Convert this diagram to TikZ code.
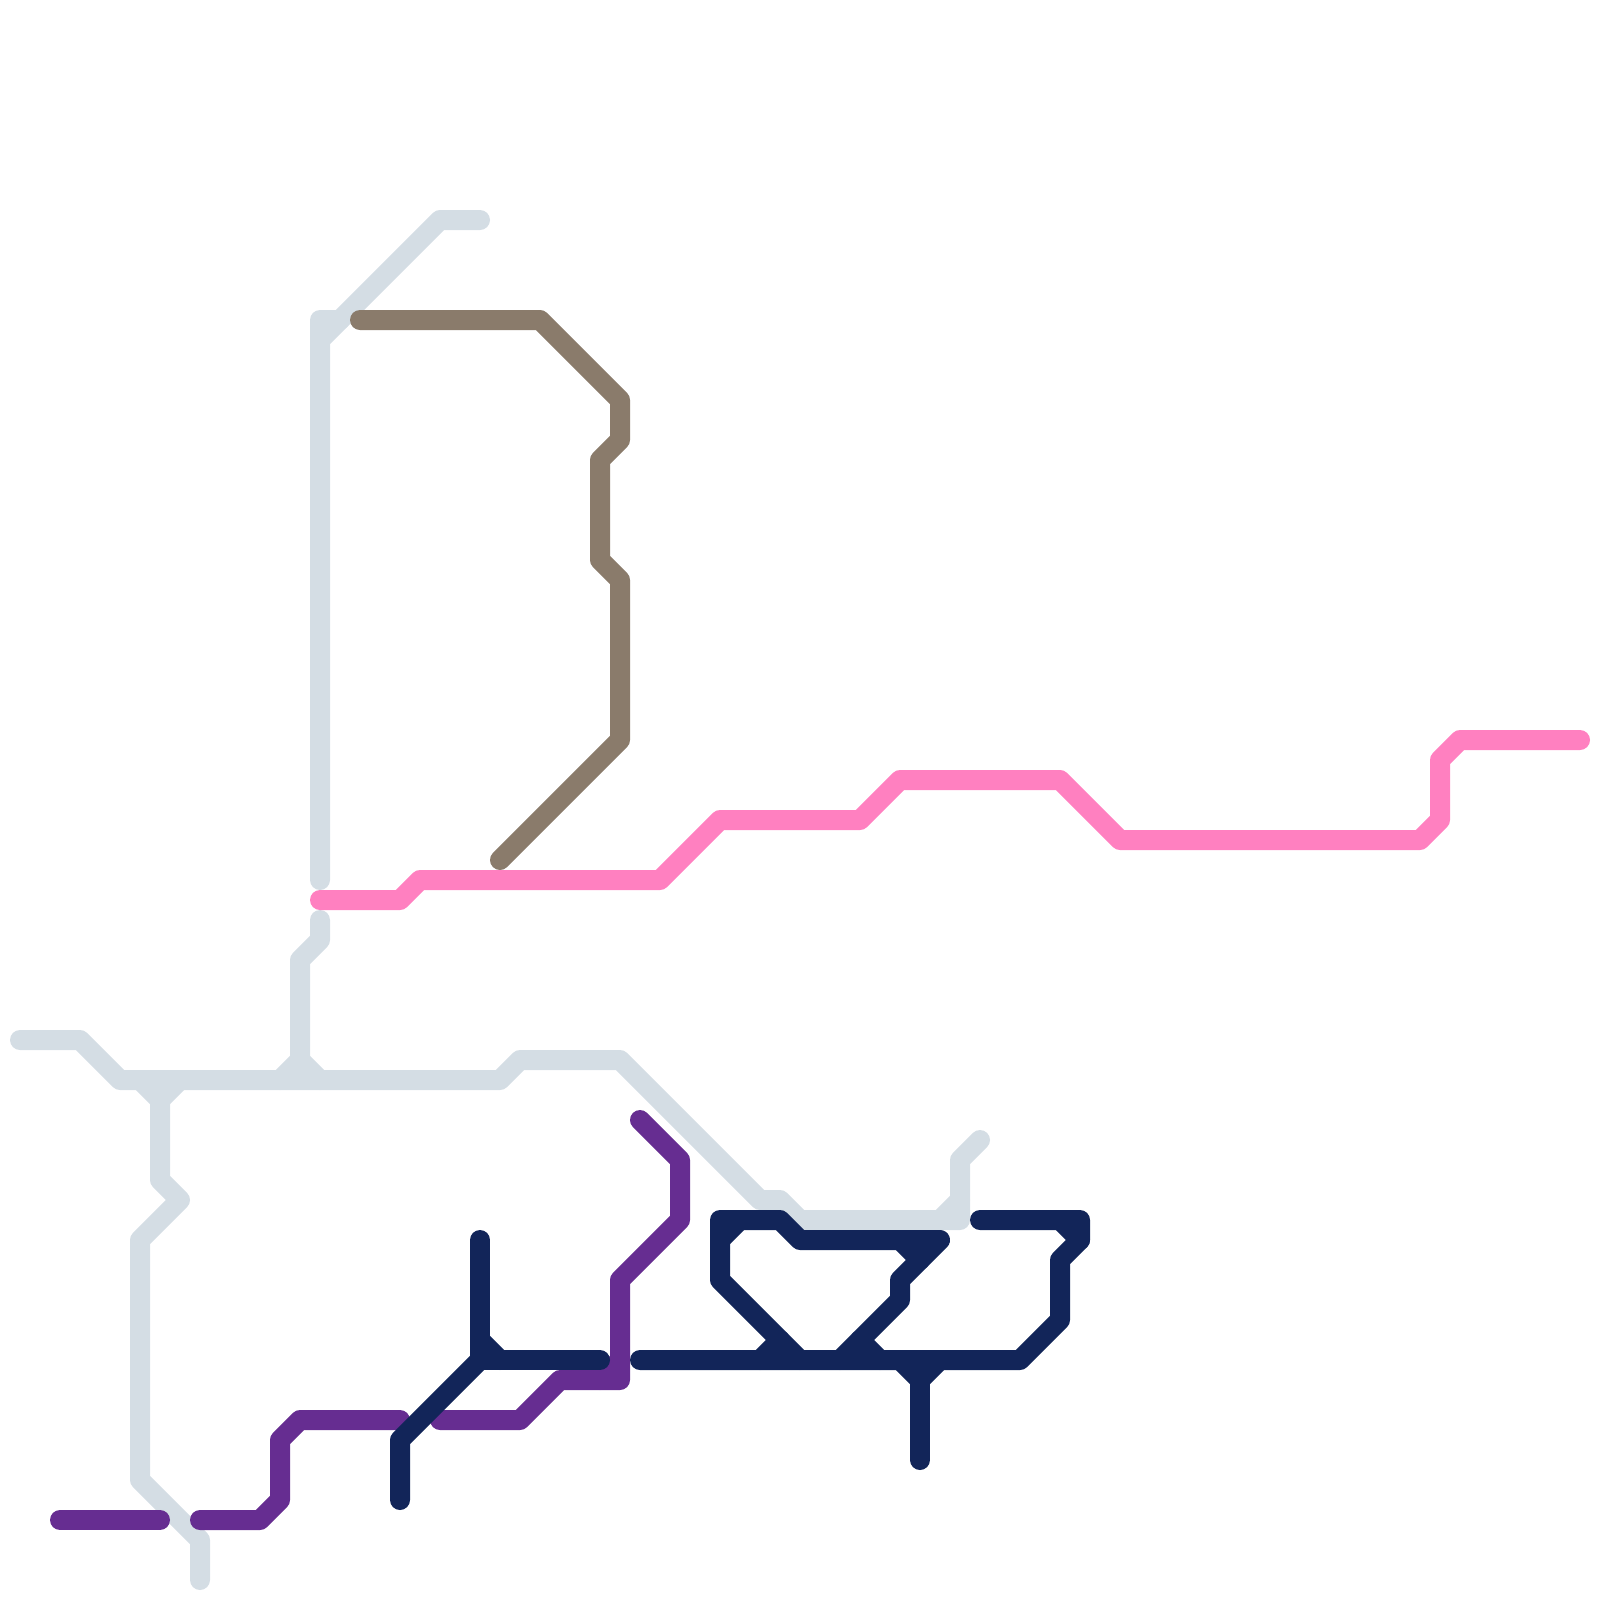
\documentclass[tikz,border=0pt]{standalone}
\usepackage{xcolor}
\usepackage{tikz}
\definecolor{mygrey}{RGB}{212,221,228}
\definecolor{mybrown}{RGB}{138,123,107}
\definecolor{mypink}{RGB}{255,128,192}
\definecolor{mypurple}{RGB}{102,45,145}
\definecolor{mynavy}{RGB}{18,37,89}
\tikzset{
  route/.style={line width=0.5cm, line cap=round, line join=round},
  greyroute/.style={route, color=mygrey},
  brownroute/.style={route, color=mybrown},
  pinkroute/.style={route, color=mypink},
  purproute/.style={route, color=mypurple},
  navyroute/.style={route, color=mynavy}
}

\begin{document}
\begin{tikzpicture}[x=0.5cm, y=-0.5cm]
  \useasboundingbox (0,0) rectangle (80,80);

  % Define main junctions
  \coordinate (Jtop) at (16,17);
  \coordinate (Jgrey) at (15,53);
  \coordinate (Jfork) at (8,55);
  \coordinate (Jhub) at (24,68);
  \coordinate (Jcorner) at (36,61);
  \coordinate (Jleft) at (40,68);
  \coordinate (Jright) at (42,68);
  \coordinate (Jdown) at (46,69);

  % Grey line, north branch
  \draw[greyroute] (24,11) -- (22,11) -- (Jtop) -- (16,44);
  \draw[greyroute] (17,16) -- (16,16) -- (Jtop);
  \draw[greyroute] (16,46) -- (16,47) -- (15,48) -- (Jgrey);

  % Grey line, main run
  \draw[greyroute] (1,52) -- (4,52) -- (6,54) -- (25,54) -- (26,53) -- (31,53)
    -- (38,60) -- (39,60) -- (40,61) -- (48,61) -- (48,58) -- (49,57);
  \draw[greyroute] (14,54) -- (Jgrey) -- (16,54);
  \draw[greyroute] (47,61) -- (48,60);

  % Grey line, south branch
  \draw[greyroute] (7,54) -- (Jfork) -- (9,54);
  \draw[greyroute] (Jfork) -- (8,59) -- (9,60) -- (7,62) -- (7,74) -- (10,77) -- (10,79);

  % Brown line
  \draw[brownroute] (18,16) -- (27,16) -- (31,20) -- (31,22) -- (30,23) -- (30,28)
    -- (31,29) -- (31,37) -- (25,43);

  % Pink line
  \draw[pinkroute] (16,45) -- (20,45) -- (21,44) -- (33,44) -- (36,41) -- (43,41)
    -- (45,39) -- (53,39) -- (56,42) -- (71,42) -- (72,41) -- (72,38) -- (73,37) -- (79,37);

  % Purple line
  \draw[purproute] (3,76) -- (8,76);
  \draw[purproute] (10,76) -- (13,76) -- (14,75) -- (14,72) -- (15,71) -- (20,71);
  \draw[purproute] (22,71) -- (26,71) -- (28,69) -- (31,69) -- (31,64) -- (34,61)
    -- (34,58) -- (32,56);
  \draw[purproute] (30,69) -- (31,68);

  % Navy line, west part
  \draw[navyroute] (24,62) -- (Jhub) -- (30,68);
  \draw[navyroute] (Jhub) -- (20,72) -- (20,75);
  \draw[navyroute] (24,67) -- (25,68);

  % Navy line, east part
  \draw[navyroute] (32,68) -- (Jleft) -- (Jright) -- (51,68) -- (53,66) -- (53,63)
    -- (54,62) -- (54,61) -- (49,61);
  \draw[navyroute] (53,61) -- (54,62);

  % Navy loop
  \draw[navyroute] (Jleft) -- (36,64) -- (Jcorner) -- (39,61) -- (40,62) -- (47,62)
    -- (45,64) -- (45,65) -- (Jright);
  \draw[navyroute] (36,62) -- (37,61);
  \draw[navyroute] (45,62) -- (46,63);
  \draw[navyroute] (39,67) -- (38,68);
  \draw[navyroute] (43,67) -- (44,68);

  % Navy spur
  \draw[navyroute] (45,68) -- (Jdown) -- (47,68);
  \draw[navyroute] (Jdown) -- (46,73);
\end{tikzpicture}
\end{document}
